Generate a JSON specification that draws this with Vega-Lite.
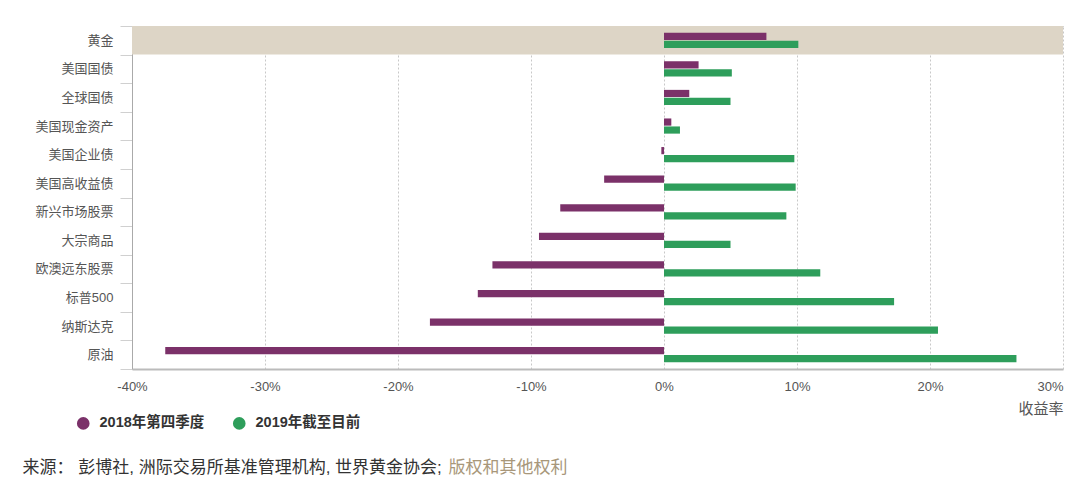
{
  "$schema": "https://vega.github.io/schema/vega-lite/v6.json",
  "width": 931,
  "height": 343,
  "autosize": {"type": "none"},
  "padding": {"left": 132, "top": 26, "right": 17, "bottom": 117},
  "background": "white",
  "config": {
    "view": {"stroke": null},
    "font": "Liberation Sans, Noto Sans CJK SC, sans-serif"
  },
  "datasets": {
    "band": [{"asset": "黄金", "from": -40, "to": 30}],
    "returns": [
      {"asset": "黄金", "series": "2018年第四季度", "value": 7.7},
      {"asset": "黄金", "series": "2019年截至目前", "value": 10.1},
      {"asset": "美国国债", "series": "2018年第四季度", "value": 2.6},
      {"asset": "美国国债", "series": "2019年截至目前", "value": 5.1},
      {"asset": "全球国债", "series": "2018年第四季度", "value": 1.9},
      {"asset": "全球国债", "series": "2019年截至目前", "value": 5.0},
      {"asset": "美国现金资产", "series": "2018年第四季度", "value": 0.55},
      {"asset": "美国现金资产", "series": "2019年截至目前", "value": 1.2},
      {"asset": "美国企业债", "series": "2018年第四季度", "value": -0.2},
      {"asset": "美国企业债", "series": "2019年截至目前", "value": 9.8},
      {"asset": "美国高收益债", "series": "2018年第四季度", "value": -4.5},
      {"asset": "美国高收益债", "series": "2019年截至目前", "value": 9.9},
      {"asset": "新兴市场股票", "series": "2018年第四季度", "value": -7.8},
      {"asset": "新兴市场股票", "series": "2019年截至目前", "value": 9.2},
      {"asset": "大宗商品", "series": "2018年第四季度", "value": -9.4},
      {"asset": "大宗商品", "series": "2019年截至目前", "value": 5.0},
      {"asset": "欧澳远东股票", "series": "2018年第四季度", "value": -12.9},
      {"asset": "欧澳远东股票", "series": "2019年截至目前", "value": 11.75},
      {"asset": "标普500", "series": "2018年第四季度", "value": -14.0},
      {"asset": "标普500", "series": "2019年截至目前", "value": 17.3},
      {"asset": "纳斯达克", "series": "2018年第四季度", "value": -17.6},
      {"asset": "纳斯达克", "series": "2019年截至目前", "value": 20.6},
      {"asset": "原油", "series": "2018年第四季度", "value": -37.5},
      {"asset": "原油", "series": "2019年截至目前", "value": 26.5}
    ]
  },
  "layer": [
    {
      "data": {"name": "band"},
      "mark": {"type": "bar", "color": "#DDD5C6"},
      "encoding": {
        "y": {
          "field": "asset", "type": "nominal",
          "sort": ["黄金","美国国债","全球国债","美国现金资产","美国企业债","美国高收益债","新兴市场股票","大宗商品","欧澳远东股票","标普500","纳斯达克","原油"],
          "scale": {"domain": ["黄金","美国国债","全球国债","美国现金资产","美国企业债","美国高收益债","新兴市场股票","大宗商品","欧澳远东股票","标普500","纳斯达克","原油"], "paddingInner": 0, "paddingOuter": 0},
          "axis": {
            "title": "版权和其他权利",
            "titleAngle": 0, "titleX": 316, "titleY": 441.5,
            "titleAlign": "left", "titleBaseline": "middle",
            "titleColor": "#A8977A", "titleFontSize": 17, "titleFontWeight": "normal",
            "labelFontSize": 13, "labelColor": "#555555", "labelPadding": 7,
            "tickBand": "extent", "tickSize": 12, "tickColor": "#d0d0d0",
            "domainColor": "#aaaaaa", "grid": false
          }
        },
        "x": {
          "field": "from", "type": "quantitative",
          "scale": {"domain": [-40, 30], "nice": false, "zero": false},
          "axis": {
            "orient": "top", "labels": false, "ticks": false, "grid": false,
            "domain": true, "domainColor": "#aaaaaa",
            "title": "来源： 彭博社, 洲际交易所基准管理机构, 世界黄金协会;",
            "titleX": -110, "titleY": 441.5, "titleAlign": "left", "titleBaseline": "middle",
            "titleFontSize": 17, "titleFontWeight": "normal", "titleColor": "#333333"
          }
        },
        "x2": {"field": "to"}
      }
    },
    {
      "data": {"name": "returns"},
      "mark": {"type": "bar"},
      "encoding": {
        "y": {
          "field": "asset", "type": "nominal",
          "sort": ["黄金","美国国债","全球国债","美国现金资产","美国企业债","美国高收益债","新兴市场股票","大宗商品","欧澳远东股票","标普500","纳斯达克","原油"],
          "scale": {"domain": ["黄金","美国国债","全球国债","美国现金资产","美国企业债","美国高收益债","新兴市场股票","大宗商品","欧澳远东股票","标普500","纳斯达克","原油"], "paddingInner": 0, "paddingOuter": 0},
          "axis": {
            "title": "版权和其他权利",
            "titleAngle": 0, "titleX": 316, "titleY": 441.5,
            "titleAlign": "left", "titleBaseline": "middle",
            "titleColor": "#A8977A", "titleFontSize": 17, "titleFontWeight": "normal",
            "labelFontSize": 13, "labelColor": "#555555", "labelPadding": 7,
            "tickBand": "extent", "tickSize": 12, "tickColor": "#d0d0d0",
            "domainColor": "#aaaaaa", "grid": false
          }
        },
        "yOffset": {
          "field": "series", "type": "nominal",
          "sort": ["2018年第四季度", "2019年截至目前"],
          "scale": {"paddingInner": 0.1, "paddingOuter": 0.84}
        },
        "x": {
          "field": "value", "type": "quantitative",
          "scale": {"domain": [-40, 30], "nice": false, "zero": false},
          "axis": {
            "values": [-40, -30, -20, -10, 0, 10, 20, 30],
            "labelExpr": "datum.value + '%'",
            "labelAlign": {"condition": {"test": "datum.value == 30", "value": "right"}, "value": "center"},
            "labelFontSize": 13, "labelColor": "#555555", "labelPadding": 11,
            "ticks": false, "tickSize": 0,
            "grid": true, "gridDash": [2, 2], "gridColor": "#c8c8c8",
            "domainColor": "#bbbbbb", "domainWidth": 2,
            "title": "收益率",
            "titleX": 931, "titleY": 39, "titleAlign": "right", "titleBaseline": "middle",
            "titleFontSize": 15, "titleColor": "#555555", "titleFontWeight": "normal"
          }
        },
        "color": {
          "field": "series", "type": "nominal",
          "sort": ["2018年第四季度", "2019年截至目前"],
          "scale": {"domain": ["2018年第四季度", "2019年截至目前"], "range": ["#7B3169", "#2E9E5B"]},
          "legend": {
            "orient": "none", "legendX": -56, "legendY": 390,
            "direction": "horizontal", "title": null,
            "symbolType": "circle", "symbolSize": 160, "symbolStrokeWidth": 0,
            "labelFontSize": 14.5, "labelFontWeight": "bold", "labelColor": "#333333",
            "labelOffset": 9, "columnPadding": 27
          }
        }
      }
    }
  ],
  "resolve": {"axis": {"x": "independent"}}
}
